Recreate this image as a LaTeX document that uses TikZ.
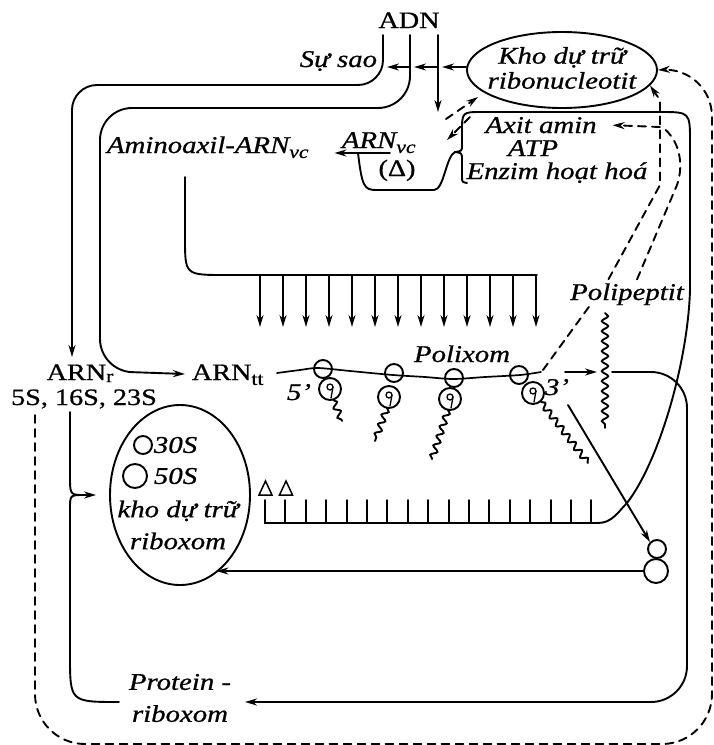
\documentclass[tikz,border=0pt]{standalone}
\usepackage{fontspec}
\setmainfont{Liberation Serif}[FakeStretch=1.2,FakeBold=0.8]
\usetikzlibrary{arrows.meta,shapes.geometric,decorations.pathmorphing}
\newcommand\lowtext[1]{\raisebox{-0.45ex}{\fontsize{18}{18}\selectfont #1}}
\newcommand\lowtextr[1]{\raisebox{-0.2ex}{\fontsize{18}{18}\selectfont #1}}
\begin{document}
\begin{tikzpicture}[x=1pt,y=-1pt,line width=1.9pt,line cap=round,
  txt/.style={inner sep=0pt,font=\fontsize{23.5}{23}\selectfont},
  itxt/.style={inner sep=0pt,font=\fontsize{24}{25}\selectfont\itshape},
  flow/.style={-{Stealth[length=12pt,width=7pt]}},
  dline/.style={dash pattern=on 8pt off 6pt},
  wave/.style={decorate,decoration={snake,amplitude=3pt,segment length=10pt}},
  chain/.style={decorate,decoration={snake,amplitude=3.2pt,segment length=10pt}},
  subunit/.style={draw,circle,inner sep=0pt}]
\useasboundingbox (0,0) rectangle (713,745);

% ---------- labels ----------
\node[txt,anchor=base] (adn) at (409,28) {ADN};
\node[itxt,anchor=base east] (susao) at (378,67) {Sự sao};
\node[draw,ellipse,minimum width=190pt,minimum height=76pt,inner sep=0pt] (kho) at (562,70) {};
\node[itxt,align=center] (khotext) at (562,68) {Kho dự trữ\\ribonucleotit};
\node[itxt,anchor=base west] (arnvc) at (341,148) {ARN\lowtext{vc}};
\node[txt,anchor=base] (delta) at (397,176) {(Δ)};
\node[itxt,anchor=base west] (amino) at (106,153) {Aminoaxil-ARN\lowtext{vc}};
\node[itxt,anchor=base] (axit) at (541,133) {Axit amin};
\node[itxt,anchor=base] (atp) at (533,156) {ATP};
\node[itxt,anchor=base] (enzim) at (557,179) {Enzim hoạt hoá};
\node[txt,anchor=base west] (arntt) at (191,380) {ARN\lowtext{tt}};
\node[txt,anchor=base] (arnr) at (80,380) {ARN\lowtextr{r}};
\node[txt,anchor=base] (arnrs) at (84,405) {5S, 16S, 23S};
\node[itxt,anchor=base] (polixom) at (462,362) {Polixom};
\node[itxt,anchor=base] (five) at (299,400) {5’};
\node[itxt,anchor=base] (three) at (557,395) {3’};
\node[itxt,align=center,font=\fontsize{24}{32}\selectfont\itshape] (protein) at (180,698) {Protein -\\riboxom};

% ribosome pool
\node[draw,ellipse,minimum width=140pt,minimum height=180pt,inner sep=0pt] (pool) at (180,495) {};
\node[subunit,minimum size=18pt] (c30) at (143,445) {};
\node[itxt,anchor=west] (t30) at (153,445) {30S};
\node[subunit,minimum size=24pt] (c50) at (135,476) {};
\node[itxt,anchor=west] (t50) at (153,476) {50S};
\node[itxt,align=center,font=\fontsize{24}{32}\selectfont\itshape] (pooltext) at (178,525) {kho dự trữ\\riboxom};

% ---------- transcription from ADN ----------
\coordinate (d1) at (383,35);
\coordinate (d2) at (410,35);
\coordinate (d3) at (438,35);
\coordinate (rtop) at (72,357);
\draw[flow,rounded corners=25pt] (d1) -- (383,85) -- (72,85) -- (rtop);
\draw[flow,rounded corners=32pt] (d2) -- (410,108) -- (100,108) -- (100,371) -- ([xshift=-6pt,yshift=6pt]arntt.base west);
\draw[flow] (d3) -- (438,112);
\draw[flow] ([yshift=3pt]kho.west) -- (442,67);
\draw[flow] (438,67) -- (414,67);
\draw[flow] (410,67) -- (387,67);

% ---------- dashed returns to the nucleotide pool ----------
\draw[dline,flow,rounded corners=50pt] (35,415) -- (35,744) -- (712,744) -- (712,67) -- (kho.east);
\draw[dline,flow] (446,119) -- (478,97);
\draw[dline,flow] (470,117) -- (447,140);
\draw[dline,flow] (543,370) -- (607,282) -- (660,185) -- (660,100) -- (kho.-10);
\draw[dline,flow] (660,127) -- ([xshift=15pt]axit.east);

% ---------- tRNA charging ----------
\coordinate (ul) at (390,153);
\draw[flow] (ul) -- ([xshift=25pt]amino.base east);
\draw (358,153) .. controls (362,186) and (364,190) .. (376,190) -- (434,190)
      .. controls (444,190) and (446,156) .. (455,152);
\draw (455,152) .. controls (462,153) .. (462,160) -- (462,177) .. controls (462,182) .. (467,183);

% aminoacyl-tRNA delivered to the polysome
\draw (185,177) -- (185,238) .. controls (185,275) .. (225,275) -- (537,275);
\foreach \i in {0,...,12}
  \draw[flow] ({260+23*\i},275) -- ({260+23*\i},327);

% ---------- free tRNA comb and return loop ----------
\draw (265,500) -- (265,523) -- (598,523) .. controls (612,523) and (618,512) .. (627,503)
      .. controls (660,460) and (688,360) .. (690,290) -- (690,142)
      .. controls (690,112) .. (660,112) -- (482,112)
      .. controls (462,112) .. (462,132) -- (462,145) .. controls (462,151) .. (455,152);
\foreach \i in {1,...,16}
  \draw ({265+20.4*\i},500) -- ({265+20.4*\i},523);
\draw[line width=1.5pt] (259,495) -- (265.5,481) -- (272,495) -- cycle;
\draw[line width=1.5pt] (279.5,495) -- (286,481) -- (292.5,495) -- cycle;

% ---------- polysome ----------
\draw[line width=1.7pt] ([xshift=4pt,yshift=7pt]arntt.base east) plot[smooth] coordinates
  {(277,373) (300,370) (318,368) (350,371) (393,375) (425,377) (453,379) (485,377) (520,375) (541,372)};
\foreach \n/\sx/\sy/\lx/\ly in {1/323/369/330/389, 2/394/373/389/397, 3/454/378/450/399, 4/519/375/533/393}{
  \node[subunit,minimum size=18pt] (s\n) at (\sx,\sy) {};
  \node[subunit,minimum size=22pt] (l\n) at (\lx,\ly) {};
  \draw[line width=1.3pt] (\lx,\ly-2) circle[radius=3];
  \draw[line width=1.3pt] (\lx+3,\ly-2) -- (\lx+1,\ly+9);
}
\draw[wave] (333,400) -- (342,421);
\draw[wave] (387,408) -- (375,441);
\draw[wave] (448,410) -- (432,459);
\draw[wave] (541,402) -- (588,463);

% released polypeptide
\draw[flow] (565,372) -- (597,372);
\draw[chain] (605,313) -- (605,428);
\node[itxt,anchor=base,fill=white,inner sep=1pt] (polip) at (627,300) {Polipeptit};
\draw[dline] ([xshift=10pt,yshift=2pt]polip.north) -- (677,185) .. controls (684,165) and (680,140) .. (662,127);
\coordinate (pend) at (245,702);
\draw[flow,rounded corners=36pt] (612,372) -- (687,372) -- (687,702) -- (pend);

% ribosome released and recycled
\node[subunit,minimum size=18pt] (rs) at (657,549) {};
\node[subunit,minimum size=24pt] (rl) at (656,571) {};
\coordinate (rel) at (568,405);
\draw[flow] (rel) -- (rs.north west);
\draw[flow] (rl.west) -- (rl.west -| pool.-65);

% rRNA and ribosomal protein into the pool
\coordinate (rr) at (70,412);
\draw[flow,shorten >=13pt] (rr) -- (70,481) .. controls (70,495) and (72,495) .. (84,495) -- (pool.west);
\draw ([xshift=-9pt,yshift=-4pt]protein.west) .. controls (70,702) .. (70,655) -- (70,509)
      .. controls (70,495) .. (84,495);
\end{tikzpicture}
\end{document}
